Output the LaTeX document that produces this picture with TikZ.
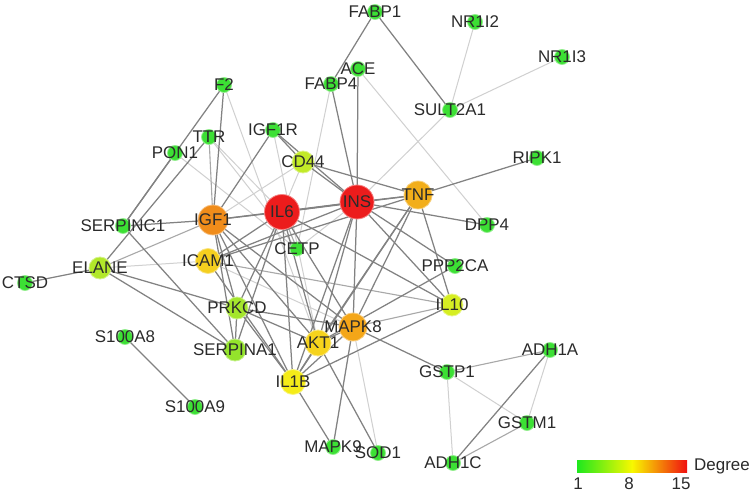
\documentclass[tikz,border=0pt]{standalone}
\usepackage{fontspec}
\setmainfont{Liberation Sans}
\definecolor{edark}{HTML}{828282}
\definecolor{emid}{HTML}{A8A8A8}
\definecolor{elight}{HTML}{D0D0D0}
\definecolor{labc}{HTML}{2B2B2B}
\definecolor{cred}{HTML}{EC1C1C}
\definecolor{cigf}{HTML}{F08C1A}
\definecolor{ctnf}{HTML}{F2AE1A}
\definecolor{cmapk}{HTML}{F4A618}
\definecolor{cicam}{HTML}{F5CF1F}
\definecolor{cakt}{HTML}{F6D31C}
\definecolor{cilb}{HTML}{F5EC18}
\definecolor{cilten}{HTML}{D6EE22}
\definecolor{ccd}{HTML}{C2EA28}
\definecolor{celane}{HTML}{B2E82A}
\definecolor{cprk}{HTML}{A4E62C}
\definecolor{cserpa}{HTML}{94E42C}
\definecolor{cgreen}{HTML}{3CE034}
\definecolor{lgreen}{HTML}{1EE81E}
\definecolor{lyellow}{HTML}{F8F800}
\definecolor{lred}{HTML}{F01010}
\begin{document}
\begin{tikzpicture}[x=1bp,y=-1bp]
\tikzset{
  ed/.style={draw=edark, line width=1.25bp},
  em/.style={draw=emid, line width=1.1bp},
  el/.style={draw=elight, line width=1bp},
  lb/.style={font=\fontsize{17}{19}\selectfont, text=labc, inner sep=0pt},
}
\useasboundingbox (0,0) rectangle (752,496);
\fill[white] (0,0) rectangle (752,496);
% positions
\coordinate (FABP1) at (375,12);
\coordinate (NR1I2) at (475,22);
\coordinate (NR1I3) at (562,57);
\coordinate (ACE) at (358,69);
\coordinate (FABP4) at (331,84);
\coordinate (F2) at (224,85);
\coordinate (SULT2A1) at (450,110);
\coordinate (TTR) at (209,137);
\coordinate (PON1) at (175,153);
\coordinate (IGF1R) at (273,130);
\coordinate (CD44) at (303,162);
\coordinate (RIPK1) at (537,158);
\coordinate (TNF) at (418,195);
\coordinate (INS) at (357,202);
\coordinate (IL6) at (282,212);
\coordinate (IGF1) at (213,220);
\coordinate (SERPINC1) at (123,226);
\coordinate (DPP4) at (487,225);
\coordinate (CETP) at (297,249);
\coordinate (ICAM1) at (208,261);
\coordinate (ELANE) at (100,268);
\coordinate (CTSD) at (25,283);
\coordinate (PPP2CA) at (455,266);
\coordinate (PRKCD) at (237,308);
\coordinate (IL10) at (452,305);
\coordinate (MAPK8) at (353,327);
\coordinate (AKT1) at (318,343);
\coordinate (S100A8) at (125,337);
\coordinate (SERPINA1) at (235,350);
\coordinate (ADH1A) at (550,350);
\coordinate (IL1B) at (293,382);
\coordinate (GSTP1) at (447,372);
\coordinate (S100A9) at (195,407);
\coordinate (GSTM1) at (527,423);
\coordinate (MAPK9) at (333,447);
\coordinate (SOD1) at (378,453);
\coordinate (ADH1C) at (453,463);
% light edges
\draw[el] (SULT2A1) -- (NR1I2);
\draw[el] (SULT2A1) -- (NR1I3);
\draw[el] (SULT2A1) -- (INS);
\draw[el] (ACE) -- (DPP4);
\draw[el] (FABP4) -- (CETP);
\draw[el] (MAPK8) -- (SOD1);
\draw[el] (GSTP1) -- (ADH1C);
\draw[el] (GSTP1) -- (GSTM1);
\draw[el] (ADH1A) -- (GSTM1);
\draw[el] (IL6) -- (CD44);
\draw[el] (IL6) -- (TTR);
\draw[el] (IGF1) -- (CD44);
\draw[el] (ICAM1) -- (ELANE);
\draw[el] (ICAM1) -- (MAPK8);
\draw[el] (F2) -- (AKT1);
\draw[el] (IGF1R) -- (AKT1);
\draw[el] (INS) -- (CETP);
\draw[el] (TTR) -- (CETP);
\draw[el] (PON1) -- (CETP);
% mid edges
\draw[em] (GSTP1) -- (ADH1A);
\draw[em] (GSTM1) -- (ADH1C);
\draw[em] (MAPK8) -- (IL10);
\draw[em] (IL6) -- (CETP);
\draw[em] (ELANE) -- (IGF1);
\draw[em] (IGF1) -- (TTR);
\draw[em] (ICAM1) -- (IL10);
% dark edges
\draw[ed] (FABP1) -- (FABP4);
\draw[ed] (FABP1) -- (SULT2A1);
\draw[ed] (ACE) -- (INS);
\draw[ed] (FABP4) -- (INS);
\draw[ed] (TNF) -- (RIPK1);
\draw[ed] (INS) -- (DPP4);
\draw[ed] (CTSD) -- (ELANE);
\draw[ed] (S100A8) -- (S100A9);
\draw[ed] (IL1B) -- (MAPK9);
\draw[ed] (MAPK8) -- (MAPK9);
\draw[ed] (AKT1) -- (SOD1);
\draw[ed] (MAPK8) -- (GSTP1);
\draw[ed] (ADH1A) -- (ADH1C);
\draw[ed] (IL1B) -- (IL10);
\draw[ed] (AKT1) -- (PPP2CA);
\draw[ed] (INS) -- (PPP2CA);
\draw[ed] (INS) -- (IL10);
\draw[ed] (IL6) -- (IL10);
\draw[ed] (TNF) -- (IL10);
\draw[ed] (TNF) -- (MAPK8);
\draw[ed] (TNF) -- (AKT1);
\draw[ed] (TNF) -- (IL1B);
\draw[ed] (F2) -- (SERPINC1);
\draw[ed] (TTR) -- (ELANE);
\draw[ed] (F2) -- (IGF1);
\draw[ed] (PON1) -- (SERPINC1);
\draw[ed] (IL6) -- (INS);
\draw[ed] (IL6) -- (IGF1);
\draw[ed] (IL6) -- (TNF);
\draw[ed] (IL6) -- (ICAM1);
\draw[ed] (IL6) -- (MAPK8);
\draw[ed] (IL6) -- (AKT1);
\draw[ed] (IL6) -- (IL1B);
\draw[ed] (IL6) -- (PRKCD);
\draw[ed] (IL6) -- (SERPINA1);
\draw[ed] (INS) -- (IGF1);
\draw[ed] (INS) -- (TNF);
\draw[ed] (INS) -- (ICAM1);
\draw[ed] (INS) -- (MAPK8);
\draw[ed] (INS) -- (AKT1);
\draw[ed] (INS) -- (IL1B);
\draw[ed] (INS) -- (CD44);
\draw[ed] (INS) -- (IGF1R);
\draw[ed] (IGF1) -- (IGF1R);
\draw[ed] (IGF1) -- (SERPINC1);
\draw[ed] (IGF1) -- (AKT1);
\draw[ed] (IGF1) -- (MAPK8);
\draw[ed] (IGF1) -- (IL1B);
\draw[ed] (IGF1) -- (PRKCD);
\draw[ed] (IGF1) -- (SERPINA1);
\draw[ed] (TNF) -- (CD44);
\draw[ed] (TNF) -- (ICAM1);
\draw[ed] (ICAM1) -- (IL1B);
\draw[ed] (MAPK8) -- (AKT1);
\draw[ed] (MAPK8) -- (IL1B);
\draw[ed] (AKT1) -- (IL1B);
\draw[ed] (AKT1) -- (PRKCD);
\draw[ed] (PRKCD) -- (SERPINA1);
\draw[ed] (PRKCD) -- (IL1B);
\draw[ed] (PRKCD) -- (MAPK8);
\draw[ed] (ELANE) -- (SERPINA1);
\draw[ed] (ELANE) -- (PRKCD);
\draw[ed] (SERPINC1) -- (SERPINA1);
\draw[ed] (CD44) -- (IGF1R);
% node circles
\foreach \n/\c/\r in {IL6/cred/17.5, INS/cred/17, IGF1/cigf/15, TNF/ctnf/14,
  MAPK8/cmapk/14, ICAM1/cicam/12.5, AKT1/cakt/13, IL1B/cilb/12.5, IL10/cilten/11,
  CD44/ccd/11, ELANE/celane/11, PRKCD/cprk/11, SERPINA1/cserpa/11,
  FABP1/cgreen/7.5, NR1I2/cgreen/7.5, NR1I3/cgreen/7.5, ACE/cgreen/7.5,
  FABP4/cgreen/7.5, F2/cgreen/7.5, SULT2A1/cgreen/7.5, TTR/cgreen/7.5,
  PON1/cgreen/7.5, IGF1R/cgreen/7.5, RIPK1/cgreen/7.5, SERPINC1/cgreen/7.5,
  DPP4/cgreen/7.5, CETP/cgreen/7, CTSD/cgreen/7.5, PPP2CA/cgreen/7.5,
  S100A8/cgreen/7.5, ADH1A/cgreen/7.5, GSTP1/cgreen/7.5, S100A9/cgreen/7.5,
  GSTM1/cgreen/7.5, MAPK9/cgreen/7.5, SOD1/cgreen/7.5, ADH1C/cgreen/7.5}
  { \fill[\c] (\n) circle (\r); \draw[\c!55!white, line width=0.8bp] (\n) circle (\r); }
% labels
\foreach \n in {FABP1,NR1I2,NR1I3,ACE,FABP4,F2,SULT2A1,TTR,PON1,IGF1R,CD44,RIPK1,
  TNF,INS,IL6,IGF1,SERPINC1,DPP4,CETP,ICAM1,ELANE,CTSD,PPP2CA,PRKCD,IL10,MAPK8,
  AKT1,S100A8,SERPINA1,ADH1A,IL1B,GSTP1,S100A9,GSTM1,MAPK9,SOD1,ADH1C}
  { \node[lb] at (\n) {\n}; }
% legend
\shade[left color=lgreen, right color=lred, middle color=lyellow] (577,460) rectangle (687,472);
\node[lb] (l1) at (578,484) {1};
\node[lb] (l8) at (629,484) {8};
\node[lb] (l15) at (681,484) {15};
\node[lb] (ldeg) at (722,466) {Degree};
\end{tikzpicture}
\end{document}
